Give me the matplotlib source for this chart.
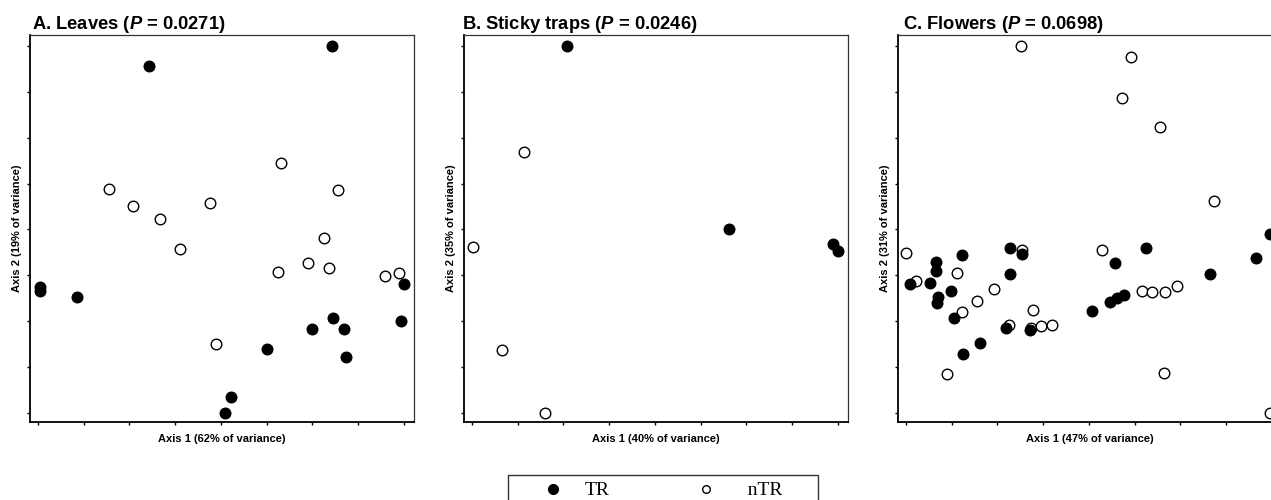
import numpy as np
import matplotlib
matplotlib.use("Agg")
import matplotlib.pyplot as plt
from matplotlib.lines import Line2D

# ordination scores (arbitrary axis units)
leaves_tr_x = [6.42, 2.43, 0.04, 0.04, 0.86, 8.01, 6.44, 5.99, 6.68, 7.93, 5.00, 6.74, 4.23, 4.09]
leaves_tr_y = [7.99, 7.57, 2.75, 2.66, 2.53, 2.81, 2.07, 1.82, 1.82, 2.01, 1.39, 1.21, 0.34, 0.00]
leaves_ntr_x = [1.55, 2.07, 2.66, 3.11, 3.77, 5.31, 6.55, 6.26, 5.91, 6.37, 5.24, 7.58, 7.89, 3.89]
leaves_ntr_y = [4.88, 4.50, 4.23, 3.58, 4.57, 5.45, 4.86, 3.81, 3.26, 3.15, 3.08, 2.98, 3.04, 1.51]

traps_tr_x = [2.07, 5.63, 7.90, 8.01]
traps_tr_y = [8.00, 4.01, 3.69, 3.54]
traps_ntr_x = [0.02, 1.14, 0.65, 1.60]
traps_ntr_y = [3.62, 5.68, 1.37, 0.00]

flowers_tr_x = [0.09, 0.53, 0.65, 0.67, 0.71, 0.68, 0.98, 1.23, 1.06, 1.25, 1.63, 2.28, 2.28,
                2.55, 2.18, 2.71, 4.06, 4.47, 4.61, 4.76, 4.57, 5.24, 6.65, 7.66, 7.95]
flowers_tr_y = [2.81, 2.84, 3.28, 3.10, 2.53, 2.39, 2.66, 3.45, 2.07, 1.29, 1.52, 3.59, 3.03,
                3.46, 1.85, 1.80, 2.22, 2.41, 2.51, 2.57, 3.26, 3.59, 3.02, 3.38, 3.89]
flowers_ntr_x = [2.52, 4.92, 4.73, 5.56, 6.73, 0.00, 0.23, 1.12, 1.92, 1.56, 1.22, 2.54, 2.78,
                 2.25, 2.74, 2.95, 3.19, 4.29, 5.16, 5.38, 5.67, 5.92, 0.90, 5.64, 7.95]
flowers_ntr_y = [7.99, 7.75, 6.87, 6.24, 4.62, 3.48, 2.87, 3.06, 2.71, 2.44, 2.20, 3.56, 2.25,
                 1.91, 1.86, 1.89, 1.91, 3.56, 2.65, 2.64, 2.64, 2.77, 0.85, 0.86, 0.00]

titles = ["A. Leaves ($\\mathit{P}$ = 0.0271)",
          "B. Sticky traps ($\\mathit{P}$ = 0.0246)",
          "C. Flowers ($\\mathit{P}$ = 0.0698)"]
xlabels = ["Axis 1 (62% of variance)", "Axis 1 (40% of variance)", "Axis 1 (47% of variance)"]
ylabels = ["Axis 2 (19% of variance)", "Axis 2 (35% of variance)", "Axis 2 (31% of variance)"]
legend_labels = ["TR", "  nTR      "]

plt.rcParams['font.family'] = "Liberation Sans"
plt.rcParams['mathtext.fontset'] = "custom"
plt.rcParams['mathtext.rm'] = "Liberation Sans:bold"
plt.rcParams['mathtext.it'] = "Liberation Sans:bold:italic"

fig = plt.figure(figsize=(12.71, 5.0), dpi=100)

lefts = [30, 464, 898]
panels = [(leaves_tr_x, leaves_tr_y, leaves_ntr_x, leaves_ntr_y),
          (traps_tr_x, traps_tr_y, traps_ntr_x, traps_ntr_y),
          (flowers_tr_x, flowers_tr_y, flowers_ntr_x, flowers_ntr_y)]
title_x = [0.005, -0.005, 0.013]

for i, (trx, tr_y, ntrx, ntry) in enumerate(panels):
    ax = fig.add_axes([lefts[i] / 1271., 1 - 422 / 500., 384 / 1271., 387 / 500.])
    ax.scatter(ntrx, ntry, s=58, facecolors="white", edgecolors="black",
               linewidths=1.0, zorder=2)
    ax.scatter(trx, tr_y, s=58, facecolors="black", edgecolors="black",
               linewidths=1.0, zorder=3)
    ax.set_xlim(-0.17, 8.22)
    ax.set_ylim(-0.2, 8.24)
    ax.set_xticks(np.arange(0, 9))
    ax.set_yticks(np.arange(0, 9))
    ax.tick_params(direction="out", length=2.5, width=1, labelbottom=False,
                   labelleft=False)
    for side in ["left", "bottom"]:
        ax.spines[side].set_linewidth(1.3)
    for side in ["top", "right"]:
        ax.spines[side].set_linewidth(0.9)
        ax.spines[side].set_color("#333333")
    ax.set_xlabel(xlabels[i], fontsize=8, fontweight="bold", labelpad=6)
    ax.set_ylabel(ylabels[i], fontsize=8, fontweight="bold", labelpad=3)
    ax.set_title(titles[i], loc="left", fontsize=13.2, fontweight="bold",
                 pad=4, x=title_x[i])

handles = [Line2D([], [], ls="none", marker="o", color="black", markersize=7),
           Line2D([], [], ls="none", marker="o", markerfacecolor="white",
                  markeredgecolor="black", markersize=5.5, markeredgewidth=1)]
leg = fig.legend(handles, legend_labels, ncol=2, loc="upper left",
                 bbox_to_anchor=(508 / 1271., 1 - 475 / 500.),
                 prop={"family": "Liberation Serif", "size": 14},
                 frameon=True, fancybox=False, borderpad=0.35,
                 handlelength=3.9, handletextpad=-0.3, columnspacing=3.0,
                 borderaxespad=0)
leg.get_frame().set_edgecolor("black")
leg.get_frame().set_linewidth(1.0)

fig.savefig("out.png", dpi=100)
